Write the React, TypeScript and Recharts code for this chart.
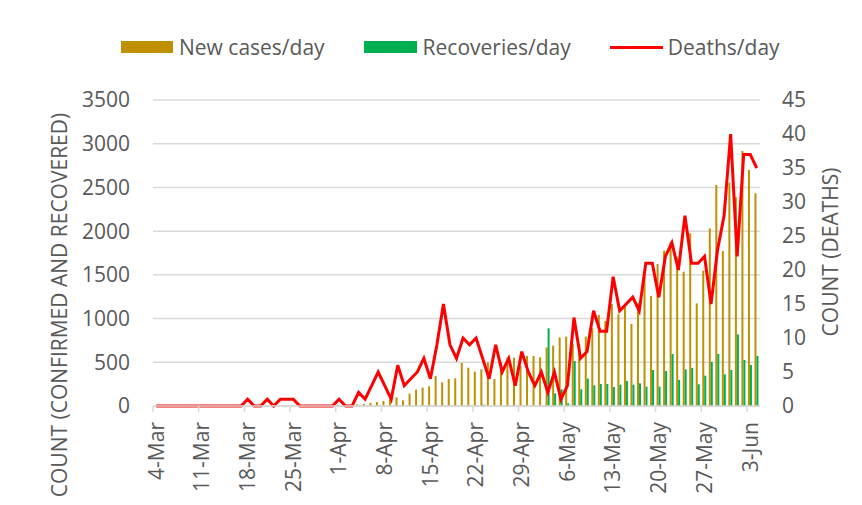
import React from 'react';
import { ComposedChart, Bar, Line, XAxis, YAxis, CartesianGrid } from 'recharts';

const dates = [
  '4-Mar', '5-Mar', '6-Mar', '7-Mar', '8-Mar', '9-Mar', '10-Mar', '11-Mar', '12-Mar', '13-Mar',
  '14-Mar', '15-Mar', '16-Mar', '17-Mar', '18-Mar', '19-Mar', '20-Mar', '21-Mar', '22-Mar', '23-Mar',
  '24-Mar', '25-Mar', '26-Mar', '27-Mar', '28-Mar', '29-Mar', '30-Mar', '31-Mar',
  '1-Apr', '2-Apr', '3-Apr', '4-Apr', '5-Apr', '6-Apr', '7-Apr', '8-Apr', '9-Apr', '10-Apr',
  '11-Apr', '12-Apr', '13-Apr', '14-Apr', '15-Apr', '16-Apr', '17-Apr', '18-Apr', '19-Apr', '20-Apr',
  '21-Apr', '22-Apr', '23-Apr', '24-Apr', '25-Apr', '26-Apr', '27-Apr', '28-Apr', '29-Apr', '30-Apr',
  '1-May', '2-May', '3-May', '4-May', '5-May', '6-May', '7-May', '8-May', '9-May', '10-May',
  '11-May', '12-May', '13-May', '14-May', '15-May', '16-May', '17-May', '18-May', '19-May', '20-May',
  '21-May', '22-May', '23-May', '24-May', '25-May', '26-May', '27-May', '28-May', '29-May', '30-May',
  '31-May', '1-Jun', '2-Jun', '3-Jun', '4-Jun',
];

const newCases = [
  0, 0, 0, 0, 0, 0, 0, 0, 0, 0,
  1, 0, 1, 2, 1, 3, 2, 2, 4, 3,
  5, 4, 6, 5, 8, 7, 9, 12, 10, 14,
  12, 18,
  23, 34, 46, 57, 76, 99, 65, 141, 187, 210, 225, 343, 271, 309, 316, 492, 438,
  393, 419, 500, 309, 507, 557, 553, 458, 572, 572, 557, 671, 690, 785, 793,
  709, 709, 793, 888, 1041, 972, 1167, 1049, 1155, 938, 1174, 1499, 1258, 1624,
  1777, 1880, 1700, 1537, 1975, 1174, 1548, 2032, 2528, 1773, 2555, 2387, 2917, 2700, 2433,
];

const recoveries = [
  0, 0, 0, 0, 0, 0, 0, 0, 0, 0,
  0, 0, 0, 0, 0, 0, 0, 0, 0, 0,
  0, 0, 0, 0, 0, 0, 0, 0, 0, 0,
  0, 0, 0, 0, 0, 0, 0, 0, 0, 0,
  0, 0, 0, 0, 0, 0, 0, 0, 0, 0,
  15,
  0, 0, 0, 0, 0, 0, 0, 0, 0,
  888, 145, 191, 30, 515, 191, 313, 236, 252, 252, 217, 244, 286, 244, 259, 221,
  412, 221, 400, 595, 297, 419, 435, 248, 347, 503, 595, 362, 412, 820, 526, 469, 572,
];

const deaths = [
  0, 0, 0, 0, 0, 0, 0, 0, 0, 0, 0, 0, 0, 0,
  1, 0, 0, 1, 0, 1, 1, 1,
  0, 0, 0, 0, 0, 0,
  1, 0, 0, 2, 1, 3, 5, 3, 1, 6, 3, 4, 5, 7, 4, 9, 15, 9, 7, 10, 9, 10,
  7, 4, 9, 5, 7, 3, 8, 5, 3, 5, 2, 5, 1, 3, 13, 7, 8, 14, 11, 11,
  19, 14, 15, 16, 14, 21, 21, 16, 22, 24, 20, 28, 21, 21, 22, 15, 23, 28, 40, 22, 37, 37, 35,
];

const leftTicks = [0, 500, 1000, 1500, 2000, 2500, 3000, 3500];
const rightTicks = [0, 5, 10, 15, 20, 25, 30, 35, 40, 45];

const seriesNames = ['New cases/day', 'Recoveries/day', 'Deaths/day'];
const leftTitle = 'COUNT (CONFIRMED AND RECOVERED)';
const rightTitle = 'COUNT (DEATHS)';

const data = dates.map((d, i) => ({
  date: d,
  newCases: newCases[i],
  recoveries: recoveries[i],
  deaths: deaths[i],
}));

const FONT = "'Open Sans', sans-serif";
const TEXT = '#595959';
const GRID = '#d9d9d9';
const GOLD = '#BF9000';
const GREEN = '#00B050';
const RED = '#FF0000';

const W = 862;
const H = 505;
const LEFT_W = 153;
const RIGHT_W = 102;
const X_H = 99;
const X_TICK_MARGIN = 16;
const plotW = W - LEFT_W - RIGHT_W;
const band = plotW / dates.length;

const XTick = (props: any) => {
  const { x, y, payload } = props;
  const axisY = y - X_TICK_MARGIN;
  const tx = x - band / 2;
  return (
    <g>
      <line x1={tx} x2={tx} y1={axisY} y2={axisY + 6} stroke={GRID} strokeWidth={1.5} />
      <text
        x={x}
        y={y}
        transform={`rotate(-90, ${x}, ${y})`}
        textAnchor="end"
        dy="0.35em"
        fill={TEXT}
        fontSize={21}
        fontFamily={FONT}
      >
        {payload.value}
      </text>
    </g>
  );
};

const LeftTitle = (props: any) => {
  const vb = props.viewBox || {};
  const cx = (vb.x || 0) + 60;
  const cy = 305;
  return (
    <text
      x={cx}
      y={cy}
      transform={`rotate(-90, ${cx}, ${cy})`}
      textAnchor="middle"
      dy="0.35em"
      fill={TEXT}
      fontSize={21}
      fontFamily={FONT}
    >
      {leftTitle}
    </text>
  );
};

const RightTitle = (props: any) => {
  const vb = props.viewBox || {};
  const cx = (vb.x || 0) + 71;
  const cy = 252;
  return (
    <text
      x={cx}
      y={cy}
      transform={`rotate(-90, ${cx}, ${cy})`}
      textAnchor="middle"
      dy="0.35em"
      fill={TEXT}
      fontSize={21}
      fontFamily={FONT}
    >
      {rightTitle}
    </text>
  );
};

const LegendBox = () => (
  <div
    style={{
      position: 'absolute',
      top: 35,
      left: 0,
      width: W,
      height: 24,
      display: 'flex',
      alignItems: 'center',
      paddingLeft: 121,
      boxSizing: 'border-box',
      fontFamily: FONT,
      fontSize: 21,
      color: TEXT,
      whiteSpace: 'nowrap',
    }}
  >
    <span style={{ display: 'inline-block', width: 52, height: 12, background: GOLD, marginRight: 6 }} />
    <span style={{ marginRight: 39 }}>{seriesNames[0]}</span>
    <span style={{ display: 'inline-block', width: 53, height: 12, background: GREEN, marginRight: 6 }} />
    <span style={{ marginRight: 39 }}>{seriesNames[1]}</span>
    <span style={{ display: 'inline-block', width: 53, height: 3, background: RED, marginRight: 5 }} />
    <span>{seriesNames[2]}</span>
  </div>
);

export default function App() {
  return (
    <div style={{ position: 'absolute', left: 0, top: 0, width: W, height: H, background: '#fff' }}>
      <ComposedChart
        width={W}
        height={H}
        data={data}
        margin={{ top: 100, right: 0, bottom: 0, left: 0 }}
        barGap={0}
        barCategoryGap={0}
      >
        <CartesianGrid yAxisId="left" vertical={false} stroke={GRID} strokeWidth={1.5} />
        <XAxis
          dataKey="date"
          height={X_H}
          interval={6}
          tickSize={0}
          tickMargin={X_TICK_MARGIN}
          tickLine={false}
          axisLine={{ stroke: GRID, strokeWidth: 1.5 }}
          tick={<XTick />}
        />
        <YAxis
          yAxisId="left"
          orientation="left"
          width={LEFT_W}
          domain={[0, 3500]}
          ticks={leftTicks}
          interval={0}
          tickSize={0}
          tickMargin={23}
          axisLine={false}
          tickLine={false}
          tick={{ fill: TEXT, fontSize: 21, fontFamily: FONT }}
          label={{ content: <LeftTitle /> }}
        />
        <YAxis
          yAxisId="right"
          orientation="right"
          width={RIGHT_W}
          domain={[0, 45]}
          ticks={rightTicks}
          interval={0}
          tickSize={0}
          tickMargin={22}
          axisLine={false}
          tickLine={false}
          tick={{ fill: TEXT, fontSize: 21, fontFamily: FONT }}
          label={{ content: <RightTitle /> }}
        />
        <Bar yAxisId="left" dataKey="newCases" name={seriesNames[0]} fill={GOLD} barSize={2} isAnimationActive={false} />
        <Bar yAxisId="left" dataKey="recoveries" name={seriesNames[1]} fill={GREEN} barSize={2} isAnimationActive={false} />
        <Line
          yAxisId="right"
          type="linear"
          dataKey="deaths"
          name={seriesNames[2]}
          stroke={RED}
          strokeWidth={3}
          dot={false}
          activeDot={false}
          isAnimationActive={false}
        />
      </ComposedChart>
      <LegendBox />
    </div>
  );
}
